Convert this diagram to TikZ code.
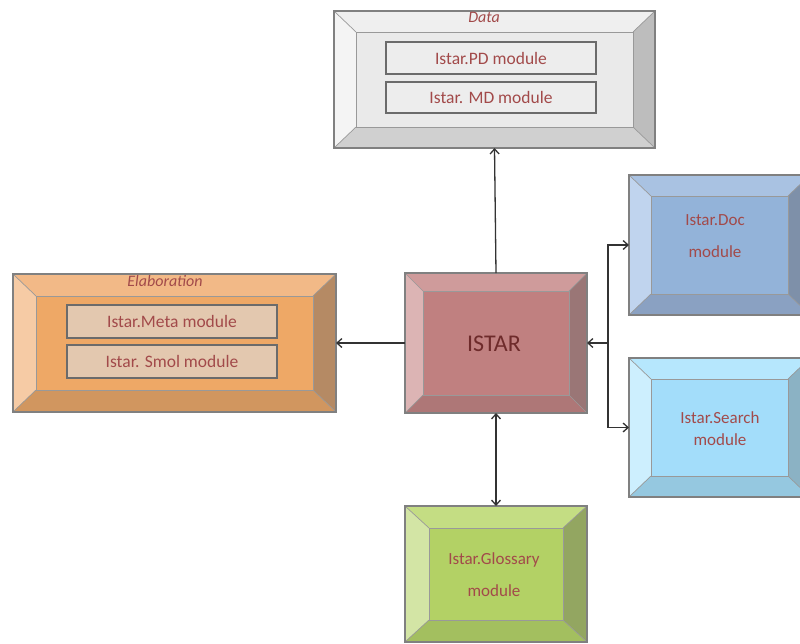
\documentclass[tikz,border=0pt]{standalone}
\usepackage{fontspec}
\setmainfont{Carlito}
\usetikzlibrary{calc,backgrounds,arrows.meta}

\definecolor{modtext}{HTML}{A24A4A}
\definecolor{istartext}{HTML}{6E2B2B}
% Data (grey)
\definecolor{dface}{HTML}{EAEAEA}\definecolor{dtop}{HTML}{EFEFEF}\definecolor{dleft}{HTML}{F4F4F4}\definecolor{dright}{HTML}{BDBDBD}\definecolor{dbot}{HTML}{D0D0D0}\definecolor{dinner}{HTML}{EDEDED}
% Elaboration (orange)
\definecolor{eface}{HTML}{EEA866}\definecolor{etop}{HTML}{F2B987}\definecolor{eleft}{HTML}{F6CBA5}\definecolor{eright}{HTML}{B58A64}\definecolor{ebot}{HTML}{D1965F}\definecolor{einner}{HTML}{E3C8AF}
% ISTAR (rose)
\definecolor{iface}{HTML}{C08080}\definecolor{itop}{HTML}{CF9B9B}\definecolor{ileft}{HTML}{DCB4B4}\definecolor{iright}{HTML}{9A7676}\definecolor{ibot}{HTML}{AE7777}
% Doc (blue)
\definecolor{oface}{HTML}{93B3D9}\definecolor{otop}{HTML}{A9C2E2}\definecolor{oleft}{HTML}{C0D4EE}\definecolor{oright}{HTML}{7E90A9}\definecolor{obot}{HTML}{8AA1C2}
% Search (light blue)
\definecolor{sface}{HTML}{A3DDFA}\definecolor{stop}{HTML}{B6E7FD}\definecolor{sleft}{HTML}{CDEFFE}\definecolor{sright}{HTML}{8BB2C4}\definecolor{sbot}{HTML}{95C8E0}
% Glossary (green)
\definecolor{gface}{HTML}{B3D165}\definecolor{gtop}{HTML}{C4DD83}\definecolor{gleft}{HTML}{D3E5A5}\definecolor{gright}{HTML}{93A661}\definecolor{gbot}{HTML}{A3BF5F}

\newcommand\bevelbox[8]{%
 \begin{scope}[on background layer]
  \fill[#4] (#1.north west) rectangle (#1.south east);
  \fill[#5] (#1.north west) -- (#1.north east) -- ($(#1.north east)+(-#2,#3)$) -- ($(#1.north west)+(#2,#3)$) -- cycle;
  \fill[#6] (#1.north west) -- (#1.south west) -- ($(#1.south west)+(#2,-#3)$) -- ($(#1.north west)+(#2,#3)$) -- cycle;
  \fill[#7] (#1.north east) -- (#1.south east) -- ($(#1.south east)+(-#2,-#3)$) -- ($(#1.north east)+(-#2,#3)$) -- cycle;
  \fill[#8] (#1.south west) -- (#1.south east) -- ($(#1.south east)+(-#2,-#3)$) -- ($(#1.south west)+(#2,-#3)$) -- cycle;
  \draw[bevelline] ($(#1.north west)+(#2,#3)$) rectangle ($(#1.south east)+(-#2,-#3)$);
  \draw[bevelline] (#1.north west) -- ($(#1.north west)+(#2,#3)$)
                   (#1.north east) -- ($(#1.north east)+(-#2,#3)$)
                   (#1.south west) -- ($(#1.south west)+(#2,-#3)$)
                   (#1.south east) -- ($(#1.south east)+(-#2,-#3)$);
  \draw[outerline] (#1.north west) rectangle (#1.south east);
 \end{scope}}

\begin{document}
\begin{tikzpicture}[x=1pt,y=-1pt,
  boxshape/.style={rectangle, inner sep=0pt, outer sep=0pt},
  bevelline/.style={draw=black!40, line width=0.7pt},
  outerline/.style={draw=black!50, line width=1.2pt},
  modbox/.style={rectangle, inner sep=0pt, outer sep=0pt, draw=black!58, line width=1.3pt,
     minimum width=210pt, text=modtext, font=\fontsize{17.5}{20}\selectfont},
  modtxt/.style={text=modtext, align=center, inner sep=0pt},
  conn/.style={draw=black!80, line width=1.3pt, -{Straight Barb[length=5pt,width=9pt]}},
  conn2/.style={draw=black!80, line width=1.3pt, {Straight Barb[length=5pt,width=9pt]}-{Straight Barb[length=5pt,width=9pt]}}]
\useasboundingbox (0,0) rectangle (800,643);
\begin{scope}[on background layer]
\fill[white] (0,0) rectangle (800,643);
\end{scope}

% Data
\node[boxshape, minimum width=321pt, minimum height=137pt] (data) at (494.5,79.5) {};
\bevelbox{data}{22}{21}{dface}{dtop}{dleft}{dright}{dbot}
\node[modtxt, font=\fontsize{16}{18}\selectfont\itshape] (datal) at (484,17.5) {Data};
\node[modbox, fill=dinner, minimum height=32pt] (pd) at (491,58) {Istar.PD module};
\node[modbox, fill=dinner, minimum height=31pt] (md) at (491,97.5) {Istar. MD module};

% Elaboration
\node[boxshape, minimum width=323pt, minimum height=138pt] (elab) at (174.5,343) {};
\bevelbox{elab}{23}{22}{eface}{etop}{eleft}{eright}{ebot}
\node[modtxt, font=\fontsize{16}{18}\selectfont\itshape] (elabl) at (165,281) {Elaboration};
\node[modbox, fill=einner, minimum height=33pt] (meta) at (172,321.5) {Istar.Meta module};
\node[modbox, fill=einner, minimum height=33pt] (smol) at (172,361.5) {Istar. Smol module};

% ISTAR
\node[boxshape, minimum width=182pt, minimum height=140pt] (istar) at (496,343) {};
\bevelbox{istar}{18}{18}{iface}{itop}{ileft}{iright}{ibot}
\node[text=istartext, inner sep=0pt, font=\fontsize{24}{28}\selectfont] (istarl) at (494,344) {ISTAR};

% Doc
\node[boxshape, minimum width=181pt, minimum height=140pt] (doc) at (719.5,245) {};
\bevelbox{doc}{22}{21}{oface}{otop}{oleft}{oright}{obot}
\node[modtxt, font=\fontsize{17}{32}\selectfont] (docl) at (715,236) {Istar.Doc\\module};

% Search
\node[boxshape, minimum width=181pt, minimum height=139pt] (search) at (719.5,427.5) {};
\bevelbox{search}{22}{21}{sface}{stop}{sleft}{sright}{sbot}
\node[modtxt, font=\fontsize{17}{22}\selectfont] (searchl) at (720,429) {Istar.Search\\module};

% Glossary
\node[boxshape, minimum width=182pt, minimum height=136pt] (gloss) at (496,574) {};
\bevelbox{gloss}{24}{22}{gface}{gtop}{gleft}{gright}{gbot}
\node[modtxt, font=\fontsize{17}{32}\selectfont] (glossl) at (494,575) {Istar.Glossary\\module};

% Connectors
\draw[conn] (istar.north) -- (data.south);
\draw[conn] (istar.west) -- (elab.east);
\coordinate (j) at (608,343);
\draw[conn] (j) -- (istar.east);
\draw[conn] (j) |- (doc.west);
\draw[conn] (j) |- (search.west);
\draw[conn2] (istar.south) -- (gloss.north);
\end{tikzpicture}
\end{document}
